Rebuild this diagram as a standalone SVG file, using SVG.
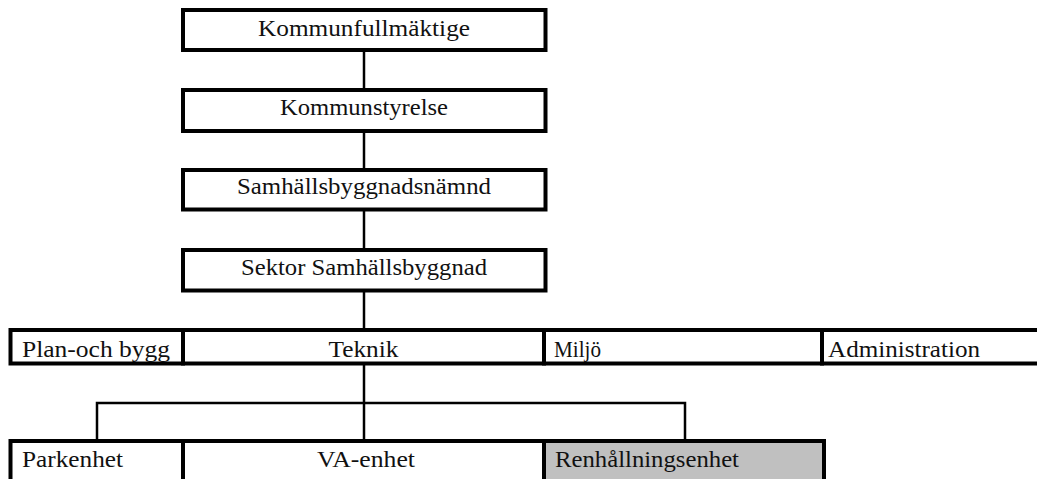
<svg xmlns="http://www.w3.org/2000/svg" width="1037" height="479" viewBox="0 0 1037 479">
<style>
.box{fill:#fff;stroke:#000;stroke-width:4}
.gray{fill:#c0c0c0;stroke:#000;stroke-width:4}
.t{font-family:"Liberation Serif","Times New Roman",serif;font-size:24px;fill:#111}
.c{text-anchor:middle}
.ln{stroke:#000;stroke-width:2.5;fill:none}
</style>
<rect width="1037" height="479" fill="#fff"/>
<g id="connectors">
<line class="ln" x1="364" y1="50" x2="364" y2="90"/>
<line class="ln" x1="364" y1="131" x2="364" y2="170"/>
<line class="ln" x1="364" y1="209" x2="364" y2="250"/>
<line class="ln" x1="364" y1="290" x2="364" y2="330"/>
<line class="ln" x1="364" y1="363" x2="364" y2="441"/>
<polyline class="ln" points="97,441 97,403 685,403 685,441"/>
</g>
<g id="kommunfullmaktige">
<rect class="box" x="183" y="10" width="362.5" height="40"/>
<text class="t c" x="364" y="36" textLength="212" lengthAdjust="spacingAndGlyphs">Kommunfullmäktige</text>
</g>
<g id="kommunstyrelse">
<rect class="box" x="183" y="90" width="362.5" height="41"/>
<text class="t c" x="364" y="115" textLength="168" lengthAdjust="spacingAndGlyphs">Kommunstyrelse</text>
</g>
<g id="samhallsbyggnadsnamnd">
<rect class="box" x="183" y="170" width="362.5" height="39.5"/>
<text class="t c" x="364" y="194" textLength="254" lengthAdjust="spacingAndGlyphs">Samhällsbyggnadsnämnd</text>
</g>
<g id="sektor">
<rect class="box" x="183" y="250" width="362.5" height="40.5"/>
<text class="t c" x="364" y="275" textLength="246" lengthAdjust="spacingAndGlyphs">Sektor Samhällsbyggnad</text>
</g>
<g id="planochbygg">
<rect class="box" x="10.5" y="330" width="172.5" height="33.5"/>
<text class="t" x="22" y="357" textLength="148" lengthAdjust="spacingAndGlyphs">Plan-och bygg</text>
</g>
<g id="teknik">
<rect class="box" x="183" y="330" width="361" height="33.5"/>
<text class="t c" x="363.5" y="357" textLength="70" lengthAdjust="spacingAndGlyphs">Teknik</text>
</g>
<g id="miljo">
<rect class="box" x="544" y="330" width="278" height="33.5"/>
<text class="t" x="554" y="357" textLength="47" lengthAdjust="spacingAndGlyphs">Miljö</text>
</g>
<g id="administration">
<rect class="box" x="822" y="330" width="220" height="33.5"/>
<text class="t" x="828" y="357" textLength="152" lengthAdjust="spacingAndGlyphs">Administration</text>
</g>
<g id="parkenhet">
<rect class="box" x="10.5" y="441" width="172.5" height="50"/>
<text class="t" x="22" y="467" textLength="101" lengthAdjust="spacingAndGlyphs">Parkenhet</text>
</g>
<g id="vaenhet">
<rect class="box" x="183" y="441" width="361" height="50"/>
<text class="t c" x="366" y="467" textLength="98" lengthAdjust="spacingAndGlyphs">VA-enhet</text>
</g>
<g id="renhallningsenhet">
<rect class="gray" x="544" y="441" width="280" height="50"/>
<text class="t" x="555" y="467" textLength="184" lengthAdjust="spacingAndGlyphs">Renhållningsenhet</text>
</g>
</svg>
